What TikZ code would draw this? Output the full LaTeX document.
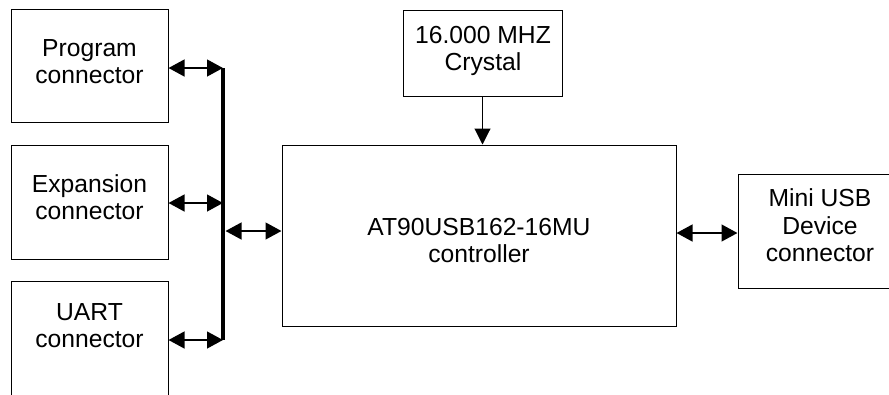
\documentclass[tikz,border=0pt]{standalone}
\usepackage{fontspec}
\setmainfont{Liberation Sans}
\usetikzlibrary{arrows.meta,fit}
\begin{document}
\begin{tikzpicture}[x=0.75pt,y=-0.75pt,
  box/.style={draw=black,line width=0.75pt,inner sep=0pt,rectangle},
  txt/.style={align=center,inner sep=0pt,font=\fontsize{18.5pt}{20.6pt}\selectfont},
  busline/.style={line width=2.4pt},
  biarrow/.style={line width=1.8pt,{Triangle[length=12pt,width=12.5pt]}-{Triangle[length=12pt,width=12.5pt]}},
  onearrow/.style={line width=0.8pt,-{Triangle[length=12pt,width=12pt]}}]
\useasboundingbox (0,0) rectangle (889,394);
\clip (0,0) rectangle (889,394);
% boxes
\node[box,fit={(11,9) (168,122)}] (prog) {};
\node[box,fit={(11,145) (168,259)}] (exp) {};
\node[box,fit={(11,281) (168,410)}] (uart) {};
\node[box,fit={(403,10) (562,96)}] (crys) {};
\node[box,fit={(282,145) (676,326)}] (ctrl) {};
\node[box,fit={(738,174) (900,288)}] (usb) {};
% texts
\node[txt] (tprog) at (89.5,64.75) {\strut Program\\\strut connector};
\node[txt] (texp) at (89.5,200.75) {\strut Expansion\\\strut connector};
\node[txt] (tuart) at (89.5,328.75) {\strut UART\\\strut connector};
\node[txt] (tcrys) at (483,51.5) {\strut 16.000 MHZ\\\strut Crystal};
\node[txt] (tctrl) at (479,243.75) {\strut AT90USB162-16MU\\\strut controller};
\node[txt] (tusb) at (820,228.5) {\strut Mini USB\\\strut Device\\\strut connector};
% bus
\coordinate (b1) at (223,68);
\coordinate (b2) at (223,203);
\coordinate (b3) at (223,340);
\coordinate (bm) at (225.5,231);
\coordinate (cu) at (700,233);
\draw[busline] (b1) -- (b3);
\draw[biarrow] (b1 -| prog.east) -- (b1);
\draw[biarrow] (b2 -| exp.east) -- (b2);
\draw[biarrow] (b3 -| uart.east) -- (b3);
\draw[biarrow] (bm) -- (bm -| ctrl.west);
\draw[onearrow] (crys.south) -- (crys.south |- ctrl.north);
\draw[biarrow] (cu -| ctrl.east) -- (cu -| usb.west);
\end{tikzpicture}
\end{document}
